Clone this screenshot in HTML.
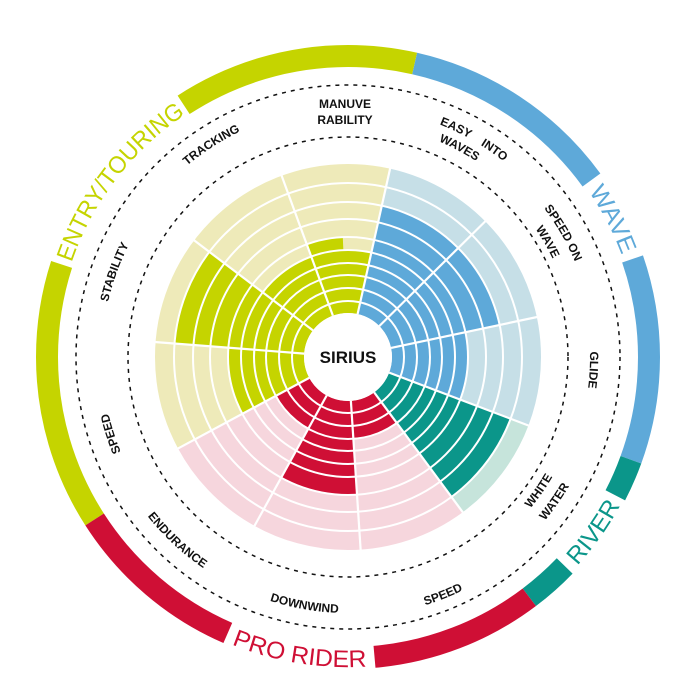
<!DOCTYPE html>
<html><head><meta charset="utf-8"><style>
html,body{margin:0;padding:0;background:#fff;}
svg{display:block;}
.lb{font-family:"Liberation Sans",sans-serif;font-weight:bold;font-size:12px;fill:#111;}
.rg{font-family:"Liberation Sans",sans-serif;font-size:24px;}
</style></head><body>
<svg width="700" height="700" viewBox="0 0 700 700" xmlns="http://www.w3.org/2000/svg">
<defs>
<path id="t227" d="M348 130 A227 227 0 1 1 348 584 A227 227 0 1 1 348 130"/>
<path id="t234" d="M348 123 A234 234 0 1 1 348 591 A234 234 0 1 1 348 123"/>
<path id="t242" d="M348 115 A242 242 0 1 1 348 599 A242 242 0 1 1 348 115"/>
<path id="t246" d="M348 111 A246 246 0 1 1 348 603 A246 246 0 1 1 348 111"/>
<path id="t250" d="M348 107 A250 250 0 1 1 348 607 A250 250 0 1 1 348 107"/>
<path id="t292" d="M348 65 A292 292 0 1 1 348 649 A292 292 0 1 1 348 65"/>
<path id="t292b" d="M348 649 A292 292 0 1 1 348 65 A292 292 0 1 1 348 649"/>
<path id="b237" d="M111 357 A237 237 0 1 0 585 357 A237 237 0 1 0 111 357"/>
<path id="b256" d="M92 357 A256 256 0 1 0 604 357 A256 256 0 1 0 92 357"/>
<path id="b260" d="M88 357 A260 260 0 1 0 608 357 A260 260 0 1 0 88 357"/>
<path id="b310" d="M38 357 A310 310 0 1 0 658 357 A310 310 0 1 0 38 357"/>
</defs>

<g transform="rotate(-90 348 357)" fill="none">
<circle cx="348" cy="357" r="301" pathLength="360" stroke="#c5d400" stroke-width="22" stroke-dasharray="50.6 309.4" stroke-dashoffset="122.6"/>
<circle cx="348" cy="357" r="301" pathLength="360" stroke="#c5d400" stroke-width="22" stroke-dasharray="45.8 314.2" stroke-dashoffset="33"/>
<circle cx="348" cy="357" r="301" pathLength="360" stroke="#5ea9d9" stroke-width="22" stroke-dasharray="41.2 318.8" stroke-dashoffset="347.2"/>
<circle cx="348" cy="357" r="301" pathLength="360" stroke="#5ea9d9" stroke-width="22" stroke-dasharray="39 321" stroke-dashoffset="289"/>
<circle cx="348" cy="357" r="301" pathLength="360" stroke="#0b968a" stroke-width="22" stroke-dasharray="7.4 352.6" stroke-dashoffset="250"/>
<circle cx="348" cy="357" r="301" pathLength="360" stroke="#0b968a" stroke-width="22" stroke-dasharray="9 351" stroke-dashoffset="226"/>
<circle cx="348" cy="357" r="301" pathLength="360" stroke="#cf0f35" stroke-width="22" stroke-dasharray="32 328" stroke-dashoffset="217"/>
<circle cx="348" cy="357" r="301" pathLength="360" stroke="#cf0f35" stroke-width="22" stroke-dasharray="33.8 326.2" stroke-dashoffset="156.4"/>

<circle cx="348" cy="357" r="118.5" pathLength="360" stroke="#eeeab9" stroke-width="149" stroke-dasharray="130.92 229.08" stroke-dashoffset="118.29"/>
<circle cx="348" cy="357" r="118.5" pathLength="360" stroke="#c6dfe7" stroke-width="149" stroke-dasharray="98.19 261.81" stroke-dashoffset="347.4"/>
<circle cx="348" cy="357" r="118.5" pathLength="360" stroke="#c6e4db" stroke-width="149" stroke-dasharray="32.73 327.27" stroke-dashoffset="249.21"/>
<circle cx="348" cy="357" r="118.5" pathLength="360" stroke="#f6d6dd" stroke-width="149" stroke-dasharray="98.19 261.81" stroke-dashoffset="216.48"/>

<circle cx="348" cy="357" r="75.5" pathLength="360" stroke="#c5d400" stroke-width="63" stroke-dasharray="32.73 327.27" stroke-dashoffset="20.1"/>
<circle cx="348" cy="357" r="113.5" pathLength="360" stroke="#c5d400" stroke-width="13" stroke-dasharray="17.8 342.2" stroke-dashoffset="20.1"/>
<circle cx="348" cy="357" r="99.5" pathLength="360" stroke="#5ea9d9" stroke-width="111" stroke-dasharray="32.73 327.27" stroke-dashoffset="347.4"/>
<circle cx="348" cy="357" r="99.5" pathLength="360" stroke="#5ea9d9" stroke-width="111" stroke-dasharray="32.73 327.27" stroke-dashoffset="314.67"/>
<circle cx="348" cy="357" r="82" pathLength="360" stroke="#5ea9d9" stroke-width="76" stroke-dasharray="32.73 327.27" stroke-dashoffset="281.94"/>
<circle cx="348" cy="357" r="109" pathLength="360" stroke="#0b968a" stroke-width="130" stroke-dasharray="32.73 327.27" stroke-dashoffset="249.21"/>
<circle cx="348" cy="357" r="63" pathLength="360" stroke="#cf0f35" stroke-width="38" stroke-dasharray="32.73 327.27" stroke-dashoffset="216.48"/>
<circle cx="348" cy="357" r="91" pathLength="360" stroke="#cf0f35" stroke-width="94" stroke-dasharray="32.73 327.27" stroke-dashoffset="183.75"/>
<circle cx="348" cy="357" r="63" pathLength="360" stroke="#cf0f35" stroke-width="38" stroke-dasharray="32.73 327.27" stroke-dashoffset="151.02"/>
<circle cx="348" cy="357" r="82" pathLength="360" stroke="#c5d400" stroke-width="76" stroke-dasharray="32.73 327.27" stroke-dashoffset="118.29"/>
<circle cx="348" cy="357" r="109" pathLength="360" stroke="#c5d400" stroke-width="130" stroke-dasharray="32.73 327.27" stroke-dashoffset="85.56"/>
<circle cx="348" cy="357" r="75.5" pathLength="360" stroke="#c5d400" stroke-width="63" stroke-dasharray="32.73 327.27" stroke-dashoffset="52.83"/>
</g>

<g fill="none" stroke="#fff" stroke-width="2">
<circle cx="348" cy="357" r="56"/><circle cx="348" cy="357" r="69"/><circle cx="348" cy="357" r="82"/>
<circle cx="348" cy="357" r="94"/><circle cx="348" cy="357" r="107"/><circle cx="348" cy="357" r="120"/>
<circle cx="348" cy="357" r="138"/><circle cx="348" cy="357" r="155"/><circle cx="348" cy="357" r="174"/>
</g>
<g stroke="#fff" stroke-width="2.2">
<line x1="348" y1="313" x2="348" y2="163" transform="rotate(339.9 348 357)"/>
<line x1="348" y1="313" x2="348" y2="163" transform="rotate(12.6 348 357)"/>
<line x1="348" y1="313" x2="348" y2="163" transform="rotate(45.33 348 357)"/>
<line x1="348" y1="313" x2="348" y2="163" transform="rotate(78.06 348 357)"/>
<line x1="348" y1="313" x2="348" y2="163" transform="rotate(110.79 348 357)"/>
<line x1="348" y1="313" x2="348" y2="163" transform="rotate(143.52 348 357)"/>
<line x1="348" y1="313" x2="348" y2="163" transform="rotate(176.25 348 357)"/>
<line x1="348" y1="313" x2="348" y2="163" transform="rotate(208.98 348 357)"/>
<line x1="348" y1="313" x2="348" y2="163" transform="rotate(241.71 348 357)"/>
<line x1="348" y1="313" x2="348" y2="163" transform="rotate(274.44 348 357)"/>
<line x1="348" y1="313" x2="348" y2="163" transform="rotate(307.17 348 357)"/>
</g>
<circle cx="348" cy="357" r="44" fill="#fff"/>
<text x="348" y="363" text-anchor="middle" font-family="Liberation Sans, sans-serif" font-weight="bold" font-size="17" fill="#111">SIRIUS</text>

<g fill="none" stroke="#111" stroke-width="1.5" stroke-dasharray="4 5">
<circle cx="348" cy="357" r="272"/>
<circle cx="348" cy="357" r="220"/>
</g>

<text class="lb" x="345" y="108" text-anchor="middle">MANUVE</text>
<text class="lb" x="345" y="124" text-anchor="middle">RABILITY</text>
<text class="lb" text-anchor="middle" xml:space="preserve"><textPath href="#t250" startOffset="130.9">EASY    INTO</textPath></text>
<text class="lb" text-anchor="middle"><textPath href="#t234" startOffset="114.4">WAVES</textPath></text>
<text class="lb" text-anchor="middle"><textPath href="#t246" startOffset="257.6">SPEED ON</textPath></text>
<text class="lb" text-anchor="middle"><textPath href="#t227" startOffset="237.7">WAVE</textPath></text>
<text class="lb" text-anchor="middle"><textPath href="#t242" startOffset="392.8">GLIDE</textPath></text>
<text class="lb" text-anchor="middle"><textPath href="#t246" startOffset="1082.0">SPEED</textPath></text>
<text class="lb" text-anchor="middle"><textPath href="#t246" startOffset="1245.1">STABILITY</textPath></text>
<text class="lb" text-anchor="middle"><textPath href="#t250" startOffset="1427.1">TRACKING</textPath></text>
<text class="lb" text-anchor="middle"><textPath href="#b237" startOffset="599.6">WHITE</textPath></text>
<text class="lb" text-anchor="middle"><textPath href="#b256" startOffset="647.6">WATER</textPath></text>
<text class="lb" text-anchor="middle"><textPath href="#b260" startOffset="507.1">SPEED</textPath></text>
<text class="lb" text-anchor="middle"><textPath href="#b256" startOffset="357.4">DOWNWIND</textPath></text>
<text class="lb" text-anchor="middle"><textPath href="#b256" startOffset="210.0">ENDURANCE</textPath></text>

<text class="rg" fill="#c5d400" text-anchor="middle"><textPath href="#t292b" startOffset="649.8" textLength="190" lengthAdjust="spacingAndGlyphs">ENTRY/TOURING</textPath></text>
<text class="rg" fill="#5ea9d9" text-anchor="middle"><textPath href="#t292" startOffset="318.5" textLength="72" lengthAdjust="spacingAndGlyphs">WAVE</textPath></text>
<text class="rg" fill="#0b968a" text-anchor="middle"><textPath href="#b310" startOffset="781.9" textLength="74" lengthAdjust="spacingAndGlyphs">RIVER</textPath></text>
<text class="rg" fill="#cf0f35" text-anchor="middle"><textPath href="#b310" startOffset="436.6" textLength="138" lengthAdjust="spacingAndGlyphs">PRO RIDER</textPath></text>
</svg>
</body></html>
